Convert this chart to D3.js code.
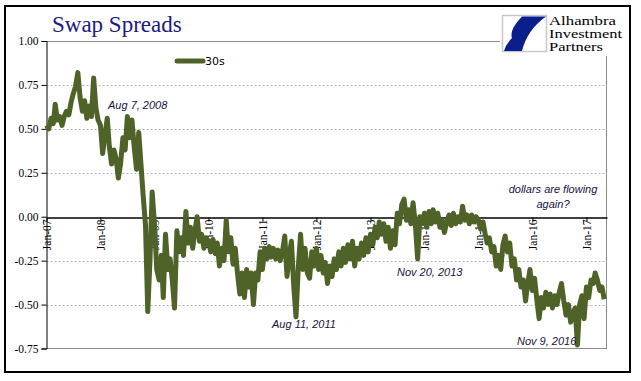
<!DOCTYPE html>
<html>
<head>
<meta charset="utf-8">
<script src="https://d3js.org/d3.v7.min.js"></script>
<style>
  body { margin: 0; background: #fff; }
  svg { display: block; }
</style>
</head>
<body>
<svg id="chart"></svg>
<script>
  // 30y swap spread, two points per month (1st and 16th)
  var v2007 = [0.52,0.50,0.56,0.53,0.64,0.55,0.57,0.52,0.57,0.60,0.58,0.65,0.70,0.74,0.82,0.68,0.60,0.66,0.56,0.63,0.57,0.79,0.62,0.55];
  var v2008 = [0.52,0.36,0.47,0.56,0.40,0.30,0.38,0.33,0.22,0.30,0.45,0.38,0.57,0.45,0.55,0.40,0.27,0.48,0.30,0.12,-0.05,-0.54,-0.25,0.14];
  var v2009 = [-0.05,-0.30,-0.36,-0.22,-0.46,-0.10,-0.30,-0.24,-0.36,-0.52,-0.08,-0.20,-0.12,-0.22,0.03,-0.15,-0.06,-0.18,-0.08,0.00,-0.14,-0.10,-0.18,-0.12];
  var v2010 = [-0.14,-0.20,-0.13,-0.21,-0.15,-0.28,-0.18,-0.25,-0.02,-0.20,-0.12,-0.27,-0.18,-0.32,-0.44,-0.32,-0.46,-0.30,-0.40,-0.32,-0.50,-0.32,-0.36,-0.20];
  var v2011 = [-0.30,-0.18,-0.24,-0.17,-0.23,-0.18,-0.24,-0.19,-0.25,-0.20,-0.11,-0.34,-0.22,-0.14,-0.40,-0.57,-0.28,-0.10,-0.30,-0.18,-0.32,-0.35,-0.20,-0.28];
  var v2012 = [-0.18,-0.30,-0.22,-0.32,-0.26,-0.38,-0.28,-0.34,-0.24,-0.30,-0.20,-0.28,-0.18,-0.26,-0.16,-0.24,-0.14,-0.28,-0.18,-0.24,-0.15,-0.22,-0.12,-0.20];
  var v2013 = [-0.10,-0.16,-0.06,-0.12,-0.03,-0.10,-0.04,-0.14,-0.06,-0.18,-0.08,-0.16,0.02,-0.04,0.07,0.10,-0.02,0.04,-0.04,0.08,-0.05,-0.24,0.00,-0.04];
  var v2014 = [0.02,-0.06,0.03,-0.04,0.04,-0.03,0.02,-0.06,-0.02,-0.09,-0.03,0.01,-0.05,0.02,-0.04,0.00,-0.03,0.06,-0.02,0.01,-0.04,0.01,-0.03,0.00];
  var v2015 = [-0.02,-0.07,-0.03,-0.10,-0.15,-0.12,-0.20,-0.17,-0.28,-0.22,-0.30,-0.16,-0.11,-0.20,-0.15,-0.28,-0.24,-0.36,-0.30,-0.40,-0.36,-0.48,-0.38,-0.30];
  var v2016 = [-0.42,-0.35,-0.48,-0.58,-0.46,-0.52,-0.43,-0.50,-0.44,-0.52,-0.45,-0.50,-0.43,-0.38,-0.48,-0.56,-0.50,-0.60,-0.55,-0.52,-0.73,-0.50,-0.45,-0.58];
  var v2017 = [-0.40,-0.46,-0.36,-0.38,-0.32,-0.36,-0.42,-0.40,-0.47];

  var years = [2007,2008,2009,2010,2011,2012,2013,2014,2015,2016,2017];
  var series = [v2007,v2008,v2009,v2010,v2011,v2012,v2013,v2014,v2015,v2016,v2017];

  var yTicks = [1.00,0.75,0.50,0.25,0.00,-0.25,-0.50,-0.75];
  var gridVals = [0.75,0.50,0.25,-0.25,-0.50];

  var notes = [
    {text: "Aug 7, 2008", x: 108, y: 109},
    {text: "Aug 11, 2011", x: 272, y: 328},
    {text: "Nov 20, 2013", x: 397, y: 276},
    {text: "Nov 9, 2016", x: 517, y: 345}
  ];

  var data = [];
  series.forEach(function(vals, k) {
    vals.forEach(function(v, i) {
      data.push({date: new Date(years[k], Math.floor(i/2), i % 2 ? 16 : 1), value: v});
    });
  });

  var width = 641, height = 381;
  var svg = d3.select('#chart').attr('width', width).attr('height', height);

  svg.append('rect').attr('x', 5).attr('y', 6).attr('width', 625).attr('height', 366)
    .attr('fill', '#fff').attr('stroke', '#000').attr('stroke-width', 2);

  var x = d3.scaleTime()
    .domain([new Date(2007,0,1), new Date(2017,4,20)])
    .range([46.5, 607]);
  var y = d3.scaleLinear()
    .domain([-0.75, 1])
    .range([348.5, 41]);

  // gridlines
  svg.selectAll('.grid').data(gridVals).enter().append('line')
    .attr('x1', 46.5).attr('x2', 607)
    .attr('y1', function(d) { return Math.round(y(d)) + 0.5; })
    .attr('y2', function(d) { return Math.round(y(d)) + 0.5; })
    .attr('stroke', '#b4b4b4').attr('stroke-dasharray', '2,2');

  // plot frame: top, right, bottom
  svg.append('path')
    .attr('d', 'M46.5,41.5H500M606.5,56V348.5M46.5,348.5H607')
    .attr('fill', 'none').attr('stroke', '#8c8c8c');

  // y axis
  var yAxis = svg.append('g').attr('transform', 'translate(46.5,0)')
    .call(d3.axisLeft(y).tickValues(yTicks).tickSize(5).tickPadding(3)
      .tickFormat(function(d) { return d.toFixed(2); }));
  yAxis.selectAll('text').attr('font-family', 'Liberation Serif').attr('font-size', 11.5).attr('fill', '#000');
  yAxis.selectAll('line, path').attr('stroke', '#000');

  // x axis on the zero line
  var xAxis = svg.append('g').attr('transform', 'translate(0,' + (Math.round(y(0)) + 0.5) + ')')
    .call(d3.axisBottom(x).ticks(d3.timeYear).tickSize(4).tickSizeOuter(0)
      .tickFormat(d3.timeFormat('Jan-%y')));
  xAxis.select('.domain').attr('stroke', '#000').attr('stroke-width', 1.5);
  xAxis.selectAll('line').attr('stroke', '#000');
  xAxis.selectAll('text')
    .attr('font-family', 'Liberation Serif').attr('font-size', 11.5).attr('fill', '#000')
    .attr('transform', 'rotate(-90)')
    .attr('text-anchor', 'end')
    .attr('x', -2).attr('y', 0).attr('dy', '0.35em');

  // series
  var line = d3.line()
    .x(function(d) { return x(d.date); })
    .y(function(d) { return y(d.value); });
  svg.append('path').datum(data)
    .attr('d', line)
    .attr('fill', 'none')
    .attr('stroke', '#4f6228')
    .attr('stroke-width', 5)
    .attr('stroke-linejoin', 'round');

  // title
  svg.append('text').attr('x', 52).attr('y', 32)
    .attr('font-family', 'Liberation Serif').attr('font-size', 23)
    .attr('fill', '#1b1b80').text('Swap Spreads');

  // legend
  svg.append('line').attr('x1', 177).attr('x2', 203).attr('y1', 61).attr('y2', 61)
    .attr('stroke', '#4f6228').attr('stroke-width', 5).attr('stroke-linecap', 'round');
  svg.append('text').attr('x', 205).attr('y', 65)
    .attr('font-family', 'DejaVu Sans').attr('font-size', 11).attr('fill', '#000').text('30s');

  // annotations
  svg.selectAll('.note').data(notes).enter().append('text')
    .attr('x', function(d) { return d.x; }).attr('y', function(d) { return d.y; })
    .attr('font-family', 'Liberation Sans').attr('font-style', 'italic').attr('font-size', 11)
    .attr('fill', '#15153d').text(function(d) { return d.text; });
  svg.append('text').attr('x', 553).attr('y', 193).attr('text-anchor', 'middle')
    .attr('font-family', 'Liberation Sans').attr('font-style', 'italic').attr('font-size', 11)
    .attr('fill', '#15153d').text('dollars are flowing');
  svg.append('text').attr('x', 553).attr('y', 208).attr('text-anchor', 'middle')
    .attr('font-family', 'Liberation Sans').attr('font-style', 'italic').attr('font-size', 11)
    .attr('fill', '#15153d').text('again?');

  // logo
  var logo = svg.append('g');
  logo.append('rect').attr('x', 502.5).attr('y', 15.5).attr('width', 44).attr('height', 36)
    .attr('fill', '#fff').attr('stroke', '#c8c8c8').attr('stroke-width', 1.5);
  logo.append('path')
    .attr('d', 'M522,16.5 L546,16.5 Q527,30 522,51 L504,51 Q506,44 512,38 Q509,30 522,16.5 Z')
    .attr('fill', '#0a1e8c');
  var logoLines = [['Alhambra', 67], ['Investment', 73], ['Partners', 54]];
  logoLines.forEach(function(t, i) {
    logo.append('text').attr('x', 549).attr('y', 24.5 + i * 13.4)
      .attr('font-family', 'Liberation Serif').attr('font-size', 11.5).attr('fill', '#000')
      .attr('textLength', t[1]).attr('lengthAdjust', 'spacingAndGlyphs').text(t[0]);
  });
</script>
</body>
</html>
